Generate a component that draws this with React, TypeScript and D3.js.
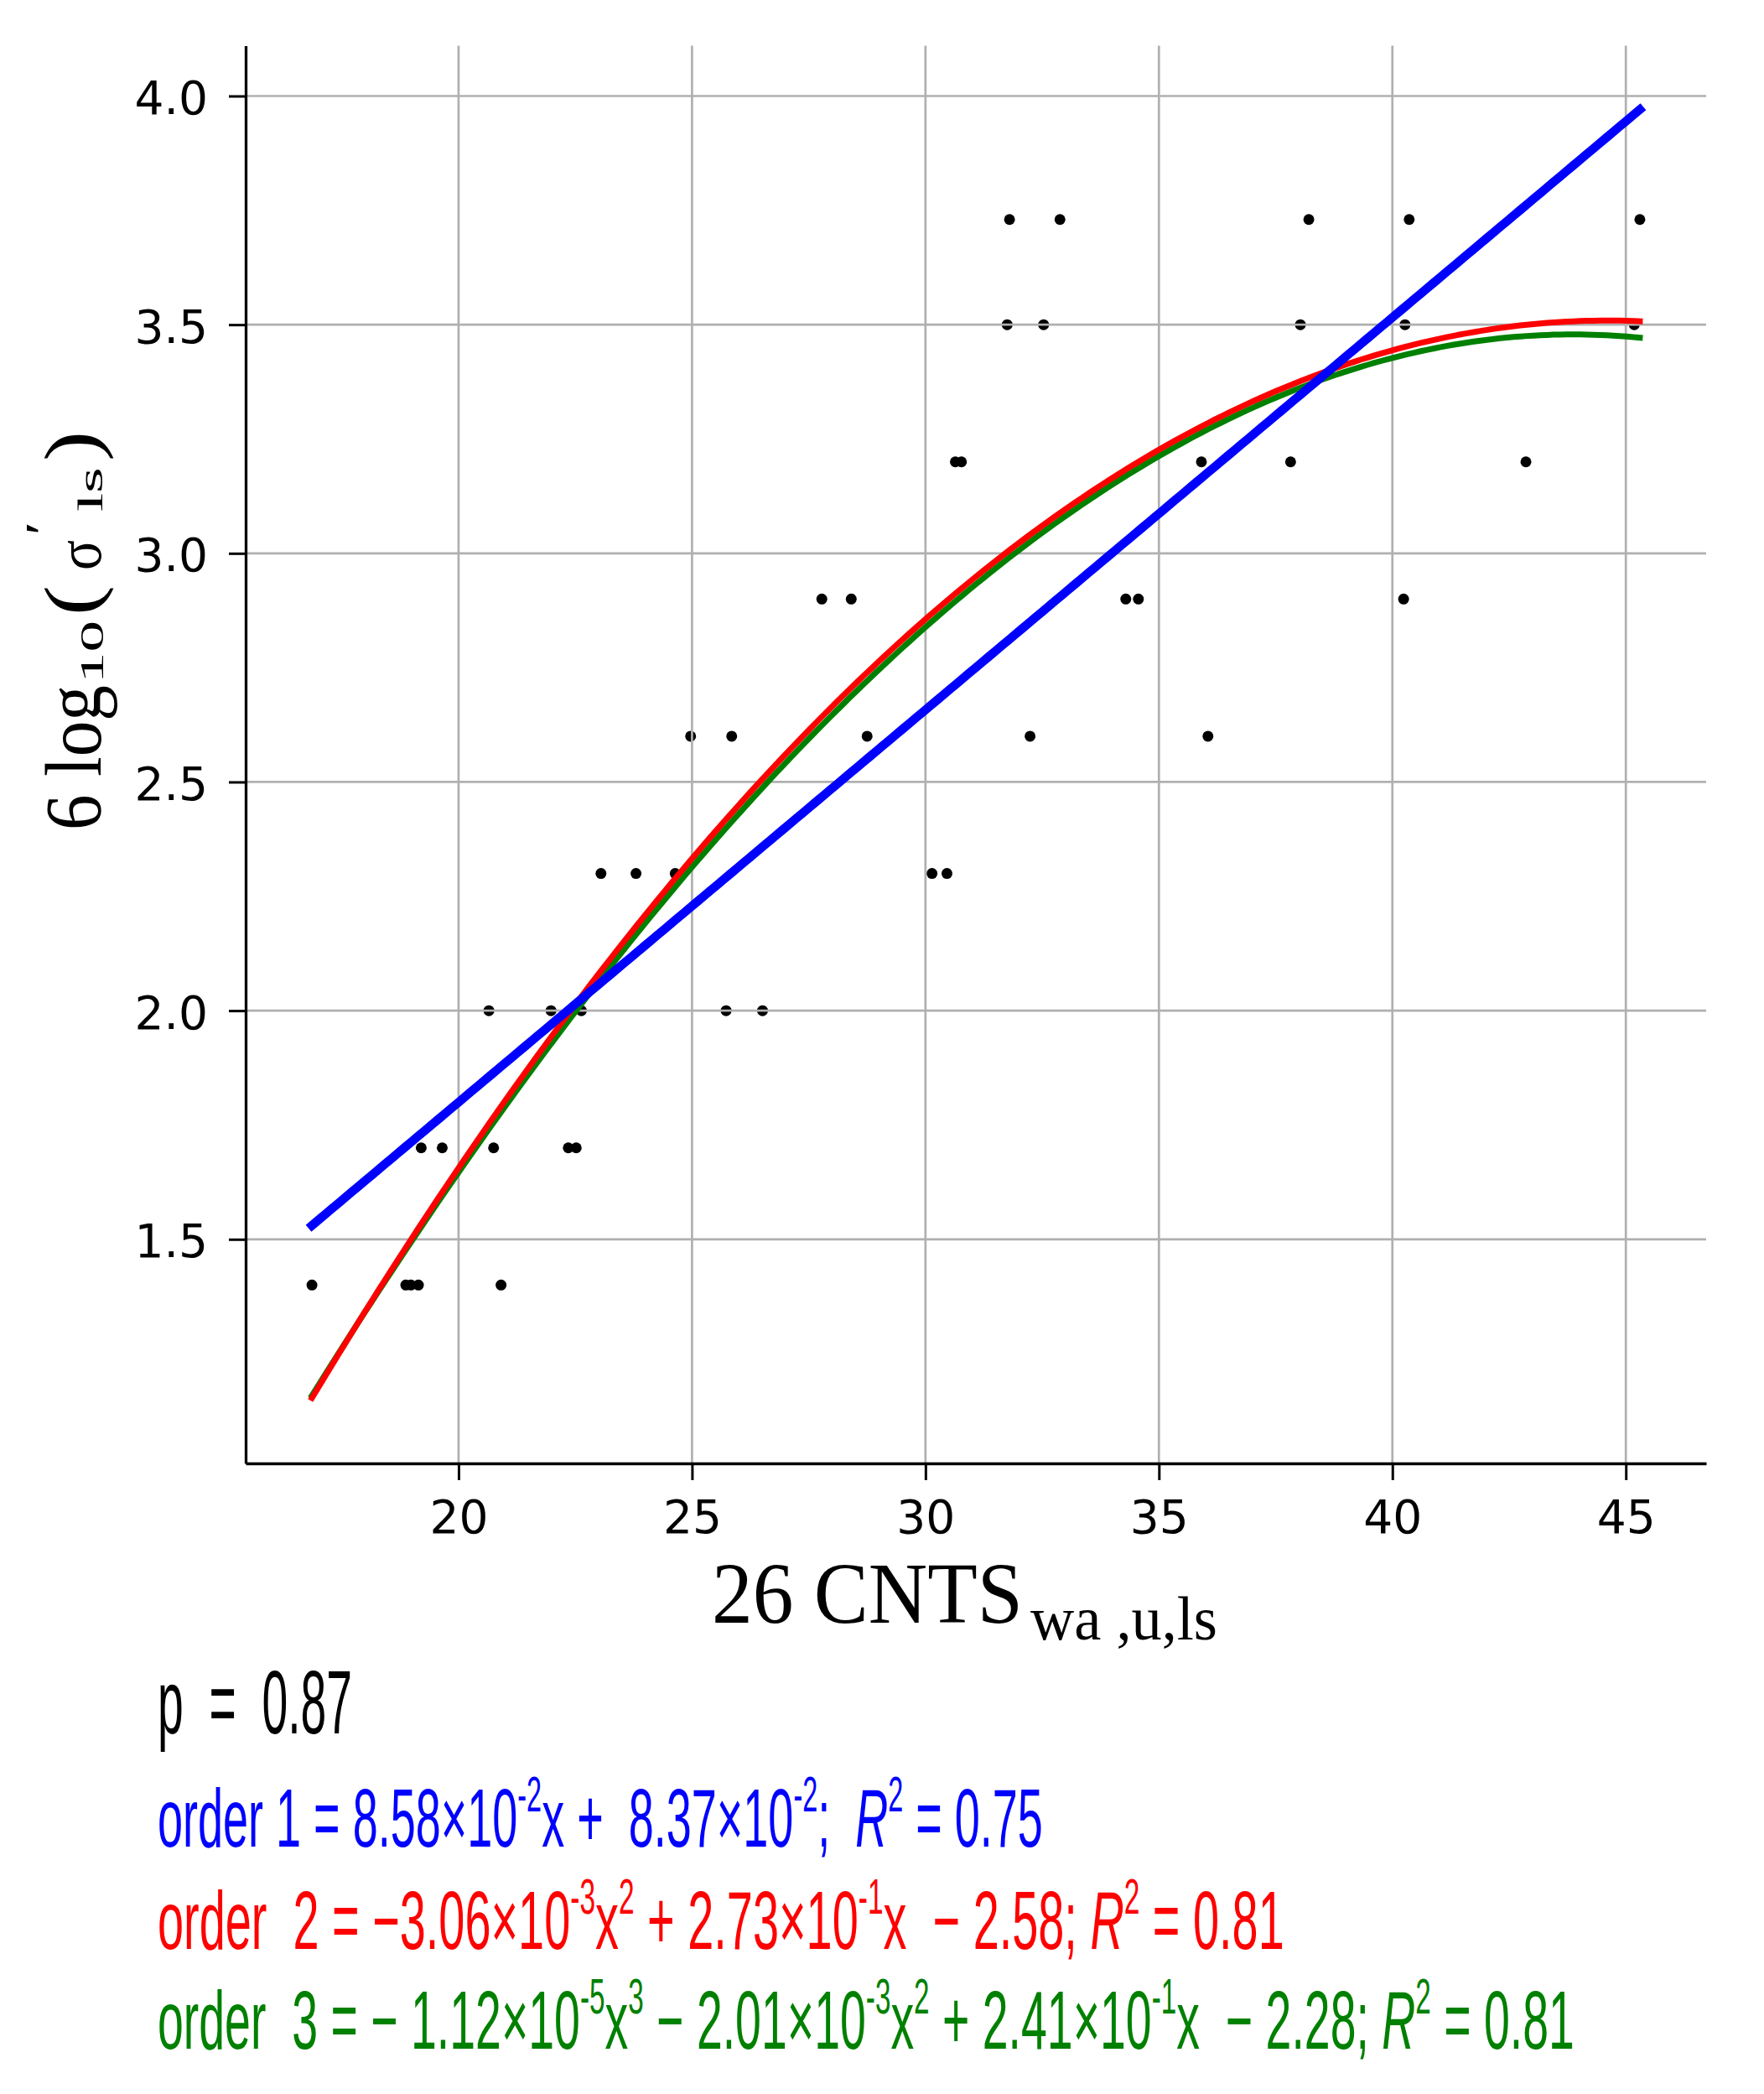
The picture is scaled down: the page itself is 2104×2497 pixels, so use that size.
import React, { useLayoutEffect, useRef } from 'react';
import * as d3 from 'd3';

// axis ticks and limits
const xTickValues = [20, 25, 30, 35, 40, 45];
const yTickValues = [1.5, 2.0, 2.5, 3.0, 3.5, 4.0];
const xDomain: [number, number] = [15.44, 46.72];
const yDomain: [number, number] = [1.01, 4.11];

// scatter points
const pointsX = [
  31.8, 32.88, 38.21, 40.36, 45.3,
  31.75, 32.53, 38.03, 40.27, 45.18,
  30.64, 30.77, 35.91, 37.82, 42.86,
  27.78, 28.41, 34.29, 34.56, 40.24,
  24.97, 25.85, 28.75, 32.24, 36.05,
  23.05, 23.8, 24.64, 30.14, 30.46,
  20.65, 21.98, 22.63, 25.73, 26.51,
  19.2, 19.65, 20.75, 22.35, 22.52,
  16.86, 18.87, 18.98, 19.14, 20.91,
];
const pointsY = [
  3.73, 3.73, 3.73, 3.73, 3.73,
  3.5, 3.5, 3.5, 3.5, 3.5,
  3.2, 3.2, 3.2, 3.2, 3.2,
  2.9, 2.9, 2.9, 2.9, 2.9,
  2.6, 2.6, 2.6, 2.6, 2.6,
  2.3, 2.3, 2.3, 2.3, 2.3,
  2.0, 2.0, 2.0, 2.0, 2.0,
  1.7, 1.7, 1.7, 1.7, 1.7,
  1.4, 1.4, 1.4, 1.4, 1.4,
];

// fit coefficients as printed under the chart, highest power first
const order1Coef = [8.58e-2, 8.37e-2];
const order2Coef = [-3.06e-3, 2.73e-1, -2.58];
const order3Coef = [-1.12e-5, -2.01e-3, 2.41e-1, -2.28];

type Seg = { text: string; sup?: boolean; italic?: boolean };

const statLine: Seg[] = [{ text: 'p  =  0.87' }];
const order1Line: Seg[] = [
  { text: 'order 1 = 8.58×10' }, { text: '-2', sup: true },
  { text: 'x +  8.37×10' }, { text: '-2', sup: true },
  { text: ';  ' }, { text: 'R', italic: true }, { text: '2', sup: true },
  { text: ' = 0.75' },
];
const order2Line: Seg[] = [
  { text: 'order  2 = −3.06×10' }, { text: '-3', sup: true },
  { text: 'x' }, { text: '2', sup: true },
  { text: ' + 2.73×10' }, { text: '-1', sup: true },
  { text: 'x  − 2.58; ' }, { text: 'R', italic: true }, { text: '2', sup: true },
  { text: ' = 0.81' },
];
const order3Line: Seg[] = [
  { text: 'order  3 = − 1.12×10' }, { text: '-5', sup: true },
  { text: 'x' }, { text: '3', sup: true },
  { text: ' − 2.01×10' }, { text: '-3', sup: true },
  { text: 'x' }, { text: '2', sup: true },
  { text: ' + 2.41×10' }, { text: '-1', sup: true },
  { text: 'x  − 2.28; ' }, { text: 'R', italic: true }, { text: '2', sup: true },
  { text: ' = 0.81' },
];

const W = 2104;
const H = 2497;
const plotLeft = 293;
const plotRight = 2035;
const plotTop = 54.5;
const plotBottom = 1745;

const polyval = (coef: number[], v: number) =>
  coef.reduce((acc, c) => acc * v + c, 0);

// squeeze or stretch a text horizontally so it spans `len` px
const fitWidth = (
  t: d3.Selection<SVGTextElement, unknown, null, undefined>,
  px: number,
  py: number,
  len: number,
) => {
  const natural = t.node()!.getComputedTextLength() || len;
  t.attr('transform', `translate(${px},${py}) scale(${len / natural},1)`);
};

export default function App() {
  const ref = useRef<SVGSVGElement>(null);

  useLayoutEffect(() => {
    if (!ref.current) return;
    const svg = d3.select(ref.current);
    svg.selectAll('*').remove();

    const x = d3.scaleLinear().domain(xDomain).range([plotLeft, plotRight]);
    const y = d3.scaleLinear().domain(yDomain).range([plotBottom, plotTop]);

    // points sit under the grid, like matplotlib's scatter
    svg
      .append('g')
      .selectAll('circle')
      .data(d3.zip(pointsX, pointsY))
      .join('circle')
      .attr('cx', (d) => x(d[0]))
      .attr('cy', (d) => y(d[1]))
      .attr('r', 6.5)
      .attr('fill', '#000');

    const grid = svg
      .append('g')
      .attr('stroke', '#b0b0b0')
      .attr('stroke-width', 2.7);
    grid
      .selectAll('line.gx')
      .data(xTickValues)
      .join('line')
      .attr('class', 'gx')
      .attr('x1', (d) => x(d))
      .attr('x2', (d) => x(d))
      .attr('y1', plotTop)
      .attr('y2', plotBottom);
    grid
      .selectAll('line.gy')
      .data(yTickValues)
      .join('line')
      .attr('class', 'gy')
      .attr('x1', plotLeft)
      .attr('x2', plotRight)
      .attr('y1', (d) => y(d))
      .attr('y2', (d) => y(d));

    // fitted curves over the data range
    const [x0, x1] = d3.extent(pointsX) as [number, number];
    const xs = d3.range(0, 201).map((i) => x0 + ((x1 - x0) * i) / 200);
    const curves = [
      { coef: order3Coef, color: '#008000', width: 7 },
      { coef: order2Coef, color: '#ff0000', width: 7 },
      { coef: order1Coef, color: '#0000ff', width: 10.5 },
    ];
    curves.forEach((c) => {
      const line = d3
        .line<number>()
        .x((v) => x(v))
        .y((v) => y(polyval(c.coef, v)));
      svg
        .append('path')
        .attr('d', line(xs))
        .attr('fill', 'none')
        .attr('stroke', c.color)
        .attr('stroke-width', c.width)
        .attr('stroke-linecap', 'square');
    });

    // axes
    const xAxis = d3
      .axisBottom(x)
      .tickValues(xTickValues)
      .tickSize(20)
      .tickSizeOuter(0)
      .tickPadding(24)
      .tickFormat(d3.format('d'));
    const yAxis = d3
      .axisLeft(y)
      .tickValues(yTickValues)
      .tickSize(20)
      .tickSizeOuter(0)
      .tickPadding(25)
      .tickFormat(d3.format('.1f'));

    const gx = svg
      .append('g')
      .attr('transform', `translate(0,${plotBottom})`)
      .call(xAxis);
    const gy = svg
      .append('g')
      .attr('transform', `translate(${plotLeft},0)`)
      .call(yAxis);
    [gx, gy].forEach((g) => {
      g.attr('font-family', '"DejaVu Sans", sans-serif').attr('font-size', 55);
      g.select('path.domain').attr('stroke', '#000').attr('stroke-width', 3.3);
      g.selectAll('.tick line').attr('stroke', '#000').attr('stroke-width', 3);
      g.selectAll('.tick text').attr('fill', '#000');
    });
    gy.selectAll('.tick text').attr('dy', '0.38em');

    // y label, built from pieces along the rotated baseline
    const yl = svg
      .append('g')
      .attr('transform', 'translate(120,990) rotate(-90)')
      .attr('font-family', '"Liberation Serif", serif')
      .attr('fill', '#000');
    const piece = (str: string, u: number, v: number, size: number, len: number) => {
      const t = yl.append('text').attr('font-size', size).text(str);
      fitWidth(t, u, v, len);
    };
    piece('6 log', 0, 0, 96, 173);
    piece('10', 175, 3, 40, 75);
    piece('(', 256, -4, 92, 36);
    piece('σ', 310, 0, 76, 36);
    piece('′', 352, -50, 56, 16);
    piece('ls', 380, 2, 42, 53);
    piece(')', 440, -4, 92, 36);

    // x label
    const xl = svg
      .append('g')
      .attr('font-family', '"Liberation Serif", serif')
      .attr('fill', '#000');
    fitWidth(xl.append('text').attr('font-size', 104).text('26 CNTS'), 849, 1935, 371);
    fitWidth(xl.append('text').attr('font-size', 74).text('wa ,u,ls'), 1229, 1955, 223);

    // statistics block
    const block = [
      { segs: statLine, color: '#000', base: 2067, size: 107, len: 232 },
      { segs: order1Line, color: '#0000ff', base: 2202, size: 98, len: 1056 },
      { segs: order2Line, color: '#ff0000', base: 2324, size: 98, len: 1344 },
      { segs: order3Line, color: '#008000', base: 2443, size: 98, len: 1690 },
    ];
    block.forEach((b) => {
      const t = svg
        .append('text')
        .attr('font-family', '"Liberation Sans Narrow", "Liberation Sans", sans-serif')
        .attr('font-size', b.size)
        .attr('fill', b.color)
        .style('white-space', 'pre');
      const rise = b.size * 0.43;
      let raised = false;
      b.segs.forEach((s) => {
        const ts = t.append('tspan').text(s.text);
        if (s.sup) {
          ts.attr('font-size', b.size * 0.6);
          if (!raised) ts.attr('dy', -rise);
          raised = true;
        } else {
          if (raised) ts.attr('dy', rise);
          raised = false;
        }
        if (s.italic) ts.attr('font-style', 'italic');
      });
      fitWidth(t, 188, b.base, b.len);
    });
  }, []);

  return (
    <svg
      ref={ref}
      width={W}
      height={H}
      style={{ position: 'absolute', left: 0, top: 0, background: '#fff' }}
    />
  );
}
